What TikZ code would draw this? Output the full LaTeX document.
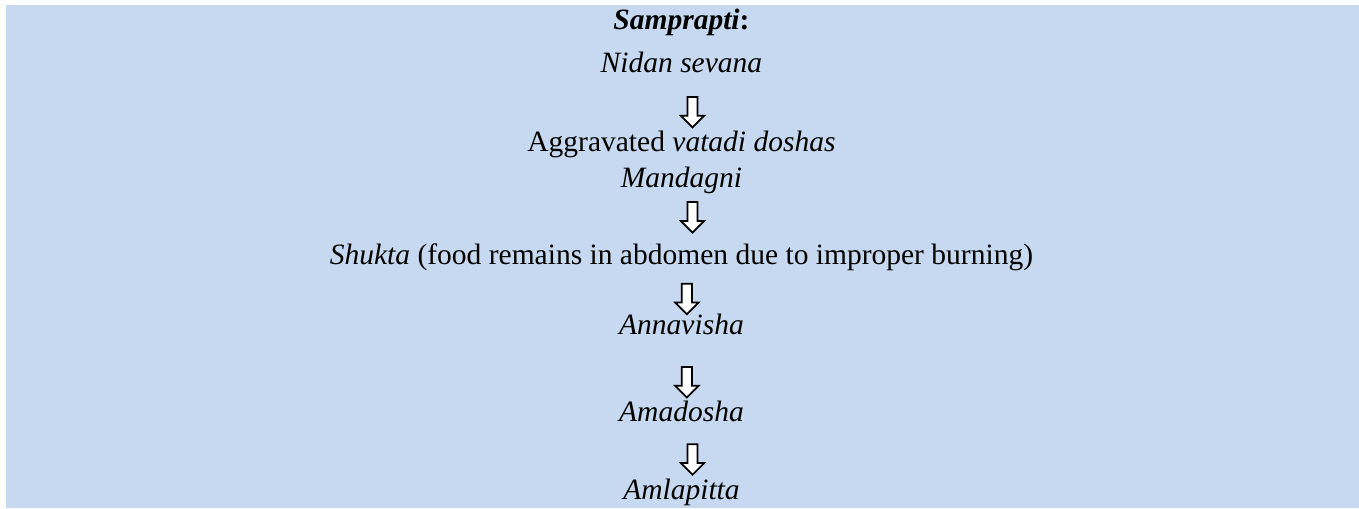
\documentclass[tikz,border=0pt]{standalone}
\usepackage{fontspec}
\setmainfont{Liberation Serif}
\usetikzlibrary{shapes.arrows, positioning}
\definecolor{panelblue}{HTML}{C6D9F0}

\begin{document}
\begin{tikzpicture}[font=\fontsize{12}{14}\selectfont,
          stage/.style={inner sep=0pt, anchor=base},
          downarrow/.style={single arrow, draw=black, fill=white, line width=0.7pt, shape border rotate=270, minimum height=12.4pt, inner sep=1.7pt, single arrow head extend=2.7pt, single arrow tip angle=90}]
        \useasboundingbox (0,0) rectangle (552.6pt,-206.6pt);
        \fill [panelblue] (2.4pt,-2pt) rectangle (552.6pt,-206.6pt);

        \node [stage] (samp) at (277.1pt,-11.8pt) {\textbf{\textit{Samprapti}:}};
        \node [below=17.5pt of samp.base, stage] (nidan) {\textit{Nidan sevana}};
        \node [below=32.5pt of nidan.base, stage] (aggr) {Aggravated \textit{vatadi doshas}};
        \node [below=14.6pt of aggr.base, stage] (mand) {\textit{Mandagni}};
        \node [below=31.3pt of mand.base, stage] (shukta) {\textit{Shukta} (food remains in abdomen due to improper burning)};
        \node [below=28.5pt of shukta.base, stage] (anna) {\textit{Annavisha}};
        \node [below=35pt of anna.base, stage] (amad) {\textit{Amadosha}};
        \node [below=32.1pt of amad.base, stage] (amla) {\textit{Amlapitta}};

        \path (nidan.base) -- node [downarrow, pos=0.47, xshift=4.5pt] (d1) {} (aggr.base);
        \path (mand.base) -- node [downarrow, pos=0.35, xshift=4.5pt] (d2) {} (shukta.base);
        \path (shukta.base) -- node [downarrow, pos=0.45, xshift=2.2pt] (d3) {} (anna.base);
        \path (anna.base) -- node [downarrow, pos=0.52, xshift=2.2pt] (d4) {} (amad.base);
        \path (amad.base) -- node [downarrow, pos=0.455, xshift=4.5pt] (d5) {} (amla.base);
      \end{tikzpicture}
\end{document}
